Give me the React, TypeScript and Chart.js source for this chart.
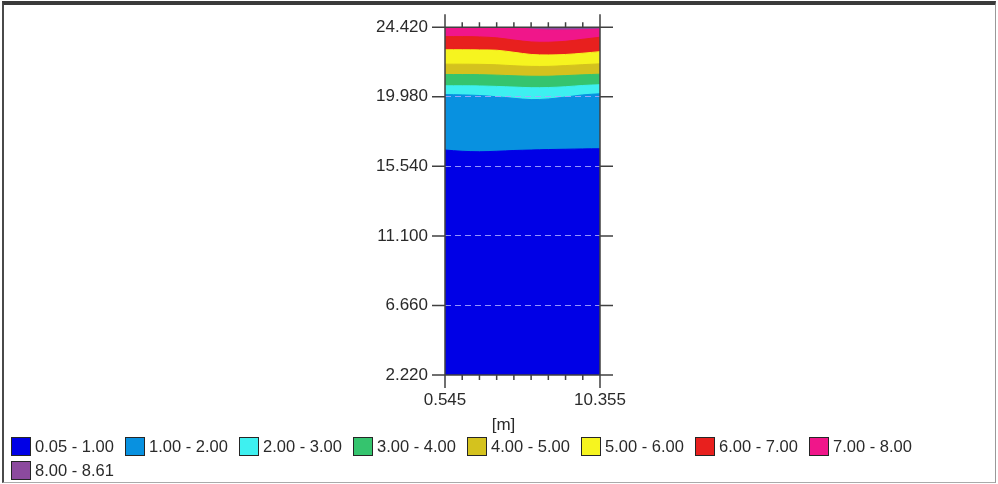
import React, { useEffect, useRef } from 'react';
import { Chart, registerables } from 'chart.js';

Chart.register(...registerables);

// Horizontal sample positions [m]
const xPositions = [0.545, 1.635, 2.725, 3.815, 4.905, 5.995, 7.085, 8.175, 9.265, 10.355];
const xTicks = [0.545, 1.635, 2.725, 3.815, 4.905, 5.995, 7.085, 8.175, 9.265, 10.355];
const yTicks = [2.22, 6.66, 11.1, 15.54, 19.98, 24.42];

// Contour boundaries (upper edge of each band)
const contour100 = [16.58, 16.5, 16.47, 16.5, 16.55, 16.58, 16.61, 16.63, 16.65, 16.66];
const contour200 = [20.12, 20.1, 20.06, 19.98, 19.88, 19.8, 19.84, 19.96, 20.1, 20.17];
const contour300 = [20.68, 20.68, 20.67, 20.64, 20.6, 20.56, 20.57, 20.62, 20.7, 20.75];
const contour400 = [21.4, 21.4, 21.39, 21.36, 21.32, 21.29, 21.29, 21.33, 21.38, 21.42];
const contour500 = [22.06, 22.06, 22.05, 22.02, 21.96, 21.92, 21.92, 21.97, 22.03, 22.08];
const contour600 = [22.98, 22.98, 22.97, 22.95, 22.82, 22.68, 22.65, 22.68, 22.76, 22.86];
const contour700 = [23.82, 23.82, 23.8, 23.74, 23.6, 23.48, 23.46, 23.52, 23.65, 23.78];
const contour800 = [24.42, 24.42, 24.42, 24.42, 24.4, 24.3, 24.24, 24.24, 24.26, 24.3];
const contourTop = [24.42, 24.42, 24.42, 24.42, 24.42, 24.42, 24.42, 24.42, 24.42, 24.42];

const legendLabels = [
  '0.05 - 1.00',
  '1.00 - 2.00',
  '2.00 - 3.00',
  '3.00 - 4.00',
  '4.00 - 5.00',
  '5.00 - 6.00',
  '6.00 - 7.00',
  '7.00 - 8.00',
  '8.00 - 8.61',
];
const bandColors = [
  '#0000e6',
  '#0891e0',
  '#3ef0f0',
  '#35c46e',
  '#d4c21e',
  '#f6f41f',
  '#e8201e',
  '#f0168a',
  '#8c4a9e',
];
const bandBoundaries = [
  contour100,
  contour200,
  contour300,
  contour400,
  contour500,
  contour600,
  contour700,
  contour800,
  contourTop,
];

const FONT = '"Liberation Sans", Arial, Helvetica, sans-serif';

const decorPlugin = {
  id: 'decor',
  afterDraw(chart: any) {
    const { ctx, chartArea: a, scales } = chart;
    const x = scales.x;
    const y = scales.y;
    ctx.save();
    ctx.strokeStyle = '#404040';
    ctx.lineWidth = 1.5;
    ctx.beginPath();
    ctx.moveTo(a.left, a.top);
    ctx.lineTo(a.left, a.bottom);
    ctx.moveTo(a.right, a.top);
    ctx.lineTo(a.right, a.bottom);
    ctx.moveTo(a.left, a.top);
    ctx.lineTo(a.right, a.top);
    ctx.moveTo(a.left, a.bottom);
    ctx.lineTo(a.right, a.bottom);
    yTicks.forEach((v) => {
      const py = y.getPixelForValue(v);
      ctx.moveTo(a.left - 13, py);
      ctx.lineTo(a.left, py);
      ctx.moveTo(a.right, py);
      ctx.lineTo(a.right + 13, py);
    });
    xTicks.forEach((v, i) => {
      const px = x.getPixelForValue(v);
      const len = i === 0 || i === xTicks.length - 1 ? 13 : 5;
      ctx.moveTo(px, a.bottom);
      ctx.lineTo(px, a.bottom + len);
      ctx.moveTo(px, a.top);
      ctx.lineTo(px, a.top - len);
    });
    ctx.stroke();
    ctx.fillStyle = '#2a2a2a';
    ctx.font = '17px ' + FONT;
    ctx.textAlign = 'center';
    ctx.textBaseline = 'middle';
    ctx.fillText('[m]', (a.left + a.right) / 2 - 19, a.bottom + 50);
    ctx.restore();
  },
};

export default function App() {
  const canvasRef = useRef<HTMLCanvasElement | null>(null);

  useEffect(() => {
    if (!canvasRef.current) return;
    const datasets = bandBoundaries.map((arr, i) => ({
      label: legendLabels[i],
      data: xPositions.map((xv, k) => ({ x: xv, y: arr[k] })),
      fill: 'start',
      backgroundColor: bandColors[i],
      borderColor: bandColors[i],
      borderWidth: 1,
      pointRadius: 0,
      tension: 0.35,
    }));
    const chart = new Chart(canvasRef.current, {
      type: 'line',
      data: { datasets },
      plugins: [decorPlugin],
      options: {
        animation: false,
        responsive: false,
        layout: { padding: { left: 365, right: 398, top: 24, bottom: 69 } },
        plugins: { legend: { display: false }, tooltip: { enabled: false } },
        scales: {
          x: {
            type: 'linear',
            min: 0.545,
            max: 10.355,
            afterBuildTicks: (s: any) => {
              s.ticks = xTicks.map((v) => ({ value: v }));
            },
            afterFit: (s: any) => {
              s.height = 40;
            },
            grid: { display: false, drawTicks: false },
            border: { display: false },
            ticks: {
              autoSkip: false,
              maxRotation: 0,
              padding: 15,
              color: '#2a2a2a',
              font: { family: FONT, size: 17 },
              callback: (v: any, i: number) =>
                i === 0 || i === xTicks.length - 1 ? Number(v).toFixed(3) : '',
            },
          },
          y: {
            type: 'linear',
            min: 2.22,
            max: 24.42,
            afterBuildTicks: (s: any) => {
              s.ticks = yTicks.map((v) => ({ value: v }));
            },
            afterFit: (s: any) => {
              s.width = 80;
            },
            grid: {
              drawTicks: false,
              z: 1,
              lineWidth: 1,
              color: (c: any) =>
                c.tick && (c.tick.value === 2.22 || c.tick.value === 24.42)
                  ? 'rgba(0,0,0,0)'
                  : 'rgba(165,165,255,0.9)',
            },
            border: { display: false, dash: [6, 4] },
            ticks: {
              padding: 17,
              color: '#2a2a2a',
              font: { family: FONT, size: 17 },
              callback: (v: any) => Number(v).toFixed(3),
            },
          },
        },
      } as any,
    });
    return () => chart.destroy();
  }, []);

  return (
    <div
      style={{
        position: 'fixed',
        left: 0,
        top: 0,
        width: 998,
        height: 484,
        background: '#fff',
        overflow: 'hidden',
      }}
    >
      <canvas ref={canvasRef} width={998} height={484} style={{ position: 'absolute', left: 0, top: 0 }} />
      <div
        style={{
          position: 'absolute',
          left: 2,
          top: 1,
          width: 994,
          height: 482,
          boxSizing: 'border-box',
          borderTop: '4px solid #3a3a3a',
          borderLeft: '2px solid #4a4a4a',
          borderRight: '1px solid #999',
          borderBottom: '1px solid #aaa',
          pointerEvents: 'none',
        }}
      />
      <div
        style={{
          position: 'absolute',
          left: 11,
          top: 437,
          width: 930,
          display: 'flex',
          flexWrap: 'wrap',
          rowGap: 5,
        }}
      >
        {legendLabels.map((lab, i) => (
          <div
            key={lab}
            style={{ width: 114, height: 19, display: 'flex', alignItems: 'center' }}
          >
            <div
              style={{
                width: 20,
                height: 19,
                boxSizing: 'border-box',
                border: '1.5px solid #262626',
                background: bandColors[i],
                flex: 'none',
              }}
            />
            <span
              style={{
                marginLeft: 4,
                fontFamily: FONT,
                fontSize: 16.5,
                color: '#2a2a2a',
                lineHeight: '19px',
                whiteSpace: 'nowrap',
              }}
            >
              {lab}
            </span>
          </div>
        ))}
      </div>
    </div>
  );
}
